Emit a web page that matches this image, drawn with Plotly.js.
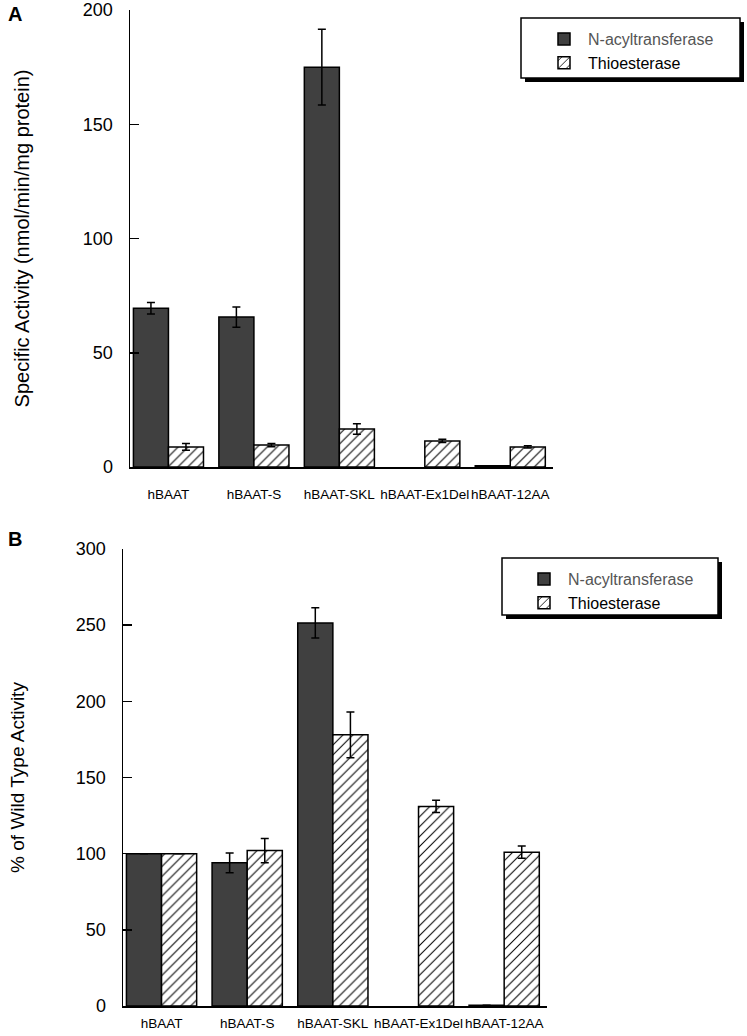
<!DOCTYPE html>
<html>
<head>
<meta charset="utf-8">
<script src="https://cdn.plot.ly/plotly-3.0.1.min.js"></script>
<style>
  body { margin: 0; background: #fff; }
  #chart { width: 747px; height: 1036px; }
</style>
</head>
<body>
<div id="chart"></div>
<script>
// constructs on the x axis
var constructs = ['hBAAT', 'hBAAT-S', 'hBAAT-SKL', 'hBAAT-Ex1Del', 'hBAAT-12AA'];

// panel A: specific activity (nmol/min/mg protein)
var acylA = [69.5, 65.6, 175, null, 0.5];
var acylA_err = [2.5, 4.4, 16.6, 0, 0];
var thioA = [8.8, 9.6, 16.6, 11.4, 8.8];
var thioA_err = [1.5, 0.7, 2.3, 0.7, 0.5];

// panel B: % of wild type activity
var acylB = [100, 94, 251.5, null, 0.5];
var acylB_err = [0, 6.5, 10, 0, 0];
var thioB = [100, 102, 178, 131, 101];
var thioB_err = [0, 8, 15, 4, 4];

var W = 747, H = 1036;
function px(x) { return x / W; }
function py(y) { return 1 - y / H; }

var FONT = 'Liberation Sans, Arial, sans-serif';
var dark = '#404040';

function errs(arr) {
  return { type: 'data', array: arr, visible: true, color: '#000', thickness: 1.5, width: 4 };
}

var trace1 = {
  x: constructs, y: acylA, type: 'bar', xaxis: 'x', yaxis: 'y',
  name: '<span style="color:#555">N-acyltransferase</span>',
  marker: { color: dark, line: { color: '#000', width: 1.5 } },
  error_y: errs(acylA_err),
  legend: 'legend'
};
var trace2 = {
  x: constructs, y: thioA, type: 'bar', xaxis: 'x', yaxis: 'y',
  name: 'Thioesterase',
  marker: { color: '#fff', line: { color: '#000', width: 1.5 },
    pattern: { shape: '/', fgcolor: '#000', bgcolor: '#fff', size: 7, solidity: 0.15 } },
  error_y: errs(thioA_err),
  legend: 'legend'
};
var trace3 = {
  x: constructs, y: acylB, type: 'bar', xaxis: 'x2', yaxis: 'y2',
  name: '<span style="color:#555">N-acyltransferase</span>',
  marker: { color: dark, line: { color: '#000', width: 1.5 } },
  error_y: errs(acylB_err),
  legend: 'legend2'
};
var trace4 = {
  x: constructs, y: thioB, type: 'bar', xaxis: 'x2', yaxis: 'y2',
  name: 'Thioesterase',
  marker: { color: '#fff', line: { color: '#000', width: 1.5 },
    pattern: { shape: '/', fgcolor: '#000', bgcolor: '#fff', size: 7, solidity: 0.15 } },
  error_y: errs(thioB_err),
  legend: 'legend2'
};

function xax(domain, anchor, standoff) {
  return {
    domain: domain, anchor: anchor, range: [-0.45, 4.5],
    showline: true, linecolor: '#000', linewidth: 1.5,
    ticks: '', showgrid: false, zeroline: false, fixedrange: true,
    tickangle: 0,
    tickfont: { family: FONT, size: 13.5, color: '#000' },
    ticklabelstandoff: standoff
  };
}
function yax(domain, anchor, range, dtick, title, size, standoff) {
  return {
    domain: domain, anchor: anchor, range: range, dtick: dtick,
    showline: true, linecolor: '#000', linewidth: 1.5,
    ticks: 'inside', ticklen: 9, tickwidth: 1.5, tickcolor: '#000',
    showgrid: false, zeroline: false, fixedrange: true,
    tickfont: { family: FONT, size: 18, color: '#000' },
    ticklabelstandoff: 12,
    title: { text: title, font: { family: FONT, size: size, color: '#000' }, standoff: standoff }
  };
}

// legend boxes with drop shadow
function legendBox(x0, y0, x1, y1) {
  return [
    { type: 'rect', xref: 'paper', yref: 'paper', x0: px(x0 + 4), x1: px(x1 + 4), y0: py(y1 + 4), y1: py(y0 + 4),
      fillcolor: '#000', line: { width: 0 }, layer: 'above' },
    { type: 'rect', xref: 'paper', yref: 'paper', x0: px(x0), x1: px(x1), y0: py(y1), y1: py(y0),
      fillcolor: '#fff', line: { color: '#000', width: 1.5 }, layer: 'above' }
  ];
}

var legendFont = { family: FONT, size: 16, color: '#000' };

var layout = {
  width: W, height: H,
  margin: { l: 0, r: 0, t: 0, b: 0 },
  paper_bgcolor: '#fff', plot_bgcolor: '#fff',
  barmode: 'group', bargap: 0.18, bargroupgap: 0,
  font: { family: FONT, color: '#000' },
  xaxis: xax([px(130), px(553)], 'y', 14),
  yaxis: yax([py(467), py(10)], 'x', [0, 200], 50, 'Specific Activity (nmol/min/mg protein)', 20, 48),
  xaxis2: xax([px(123), px(547)], 'y2', 4),
  yaxis2: yax([py(1006), py(549)], 'x2', [0, 300], 50, '% of Wild Type Activity', 19, 46),
  legend: {
    x: px(540), y: py(22), xanchor: 'left', yanchor: 'top',
    bgcolor: 'rgba(0,0,0,0)', borderwidth: 0, itemwidth: 38,
    font: legendFont, tracegroupgap: 0
  },
  legend2: {
    x: px(520), y: py(562), xanchor: 'left', yanchor: 'top',
    bgcolor: 'rgba(0,0,0,0)', borderwidth: 0, itemwidth: 38,
    font: legendFont, tracegroupgap: 0
  },
  shapes: legendBox(521, 18, 740, 78).concat(legendBox(502, 558, 718, 615)),
  annotations: [
    { text: '<b>A</b>', xref: 'paper', yref: 'paper', x: px(6), y: py(1), xanchor: 'left', yanchor: 'top',
      showarrow: false, font: { family: FONT, size: 20, color: '#000' } },
    { text: '<b>B</b>', xref: 'paper', yref: 'paper', x: px(6), y: py(526), xanchor: 'left', yanchor: 'top',
      showarrow: false, font: { family: FONT, size: 20, color: '#000' } }
  ]
};

Plotly.newPlot('chart', [trace1, trace2, trace3, trace4], layout, { staticPlot: true });
</script>
</body>
</html>
